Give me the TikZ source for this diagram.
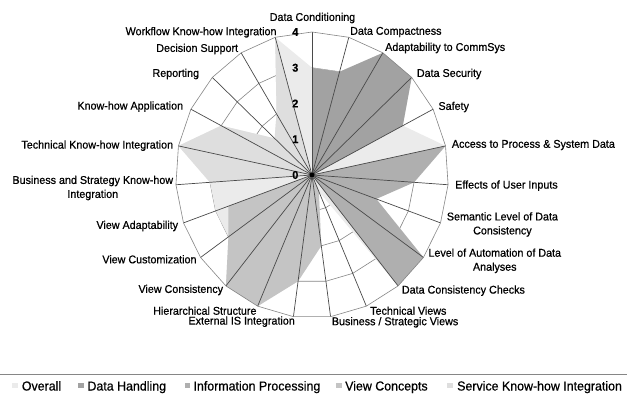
\documentclass[tikz,border=0pt]{standalone}
\usepackage{fontspec}
\newfontfamily\chartfont{Liberation Sans}[FakeStretch=0.954,FakeBold=0.6]

\definecolor{gridgray}{HTML}{868686}
\definecolor{spokegray}{HTML}{4A4A4A}
\definecolor{overallfill}{HTML}{EBEBEB}
\definecolor{handlingfill}{HTML}{A2A2A2}
\definecolor{processfill}{HTML}{AFAFAF}
\definecolor{viewfill}{HTML}{C4C4C4}
\definecolor{servicefill}{HTML}{DEDEDE}

% point on axis #1 (0..22, clockwise from top) at value #2 (0..4)
\newcommand{\rp}[2]{({90-(#1)*360/23}:{(#2)*34.1pt} and {(#2)*35.75pt})}

\begin{document}
\begin{tikzpicture}[x=1pt,y=1pt,
    grid/.style={draw=gridgray, line width=0.6pt},
    spoke/.style={draw=spokegray, line width=0.7pt},
    axislabel/.style={font=\chartfont\fontsize{11.26}{14}\selectfont, inner sep=0pt, align=center},
    ticklabel/.style={font=\chartfont\bfseries\fontsize{11.3}{13}\selectfont, inner sep=0pt, anchor=east},
    legendtext/.style={font=\chartfont\fontsize{13}{15}\selectfont, inner sep=0pt, anchor=base west},
    legendkey/.style={minimum size=5.5pt, inner sep=0pt}]

    \useasboundingbox (0,0) rectangle (627,394);
    \fill[white] (0,0) rectangle (627,394);

    \begin{scope}[shift={(312,219)}]
        % inner rings of the grid
        \foreach \r in {1,2,3}
            \draw[grid] \rp{0}{\r} \foreach \k in {1,...,22} { -- \rp{\k}{\r} } -- cycle;

        % Overall
        \fill[overallfill] \rp{0}{3} \foreach \k/\v in {1/3,2/4,3/4,4/3,5/4,6/3,7/2,8/4,9/4,10/0.5,11/2,12/3,13/4,14/4,15/3,16/3,17/3,18/4,19/3,20/1.5,21/2,22/4} { -- \rp{\k}{\v} } -- cycle;
        % Data Handling
        \fill[handlingfill] (0,0) \foreach \k/\v in {0/3,1/3,2/4,3/4,4/3} { -- \rp{\k}{\v} } -- cycle;
        % Information Processing
        \fill[processfill] (0,0) \foreach \k/\v in {5/4,6/3,7/2,8/4,9/4} { -- \rp{\k}{\v} } -- cycle;
        % View Concepts
        \fill[viewfill] (0,0) \foreach \k/\v in {10/0.5,11/2,12/3,13/4,14/4,15/3,16/2.6} { -- \rp{\k}{\v} } -- cycle;
        % Service Know-how Integration
        \fill[servicefill] (0,0) \foreach \k/\v in {17/3,18/4,19/3,20/1.5,21/2,22/4} { -- \rp{\k}{\v} } -- cycle;

        % spokes and outer ring
        \foreach \k in {0,...,22}
            \draw[spoke] (0,0) -- \rp{\k}{4};
        \draw[grid] \rp{0}{4} \foreach \k in {1,...,22} { -- \rp{\k}{4} } -- cycle;
        \fill[black] (0,0) circle (2.4pt);
    \end{scope}

    % scale values
    \node[ticklabel] (tick0) at (298.5,219) {0};
    \node[ticklabel] (tick1) at (298.5,254.75) {1};
    \node[ticklabel] (tick2) at (298.5,290.5) {2};
    \node[ticklabel] (tick3) at (298.5,326.25) {3};
    \node[ticklabel] (tick4) at (298.5,362) {4};

    % axis labels, right half
    \node[axislabel, anchor=center] (conditioning) at (312.5,376) {Data Conditioning};
    \node[axislabel, anchor=west] (compactness) at (350,362) {Data Compactness};
    \node[axislabel, anchor=west] (adaptability) at (385,346) {Adaptability to CommSys};
    \node[axislabel, anchor=west] (security) at (416.7,320) {Data Security};
    \node[axislabel, anchor=west] (safety) at (438.3,287) {Safety};
    \node[axislabel, anchor=west] (access) at (451.7,249) {Access to Process \& System Data};
    \node[axislabel, anchor=west] (effects) at (455,208.3) {Effects of User Inputs};
    \node[axislabel, anchor=west] (semantic) at (446.7,169.5) {Semantic Level of Data\\Consistency};
    \node[axislabel, anchor=west] (automation) at (428.3,133.2) {Level of Automation of Data\\Analyses};
    \node[axislabel, anchor=west] (checks) at (401.7,103.3) {Data Consistency Checks};
    \node[axislabel, anchor=west] (techviews) at (370,83.3) {Technical Views};
    \node[axislabel, anchor=west] (bizviews) at (331.7,71.7) {Business / Strategic Views};

    % axis labels, left half
    \node[axislabel, anchor=east] (external) at (295,72.3) {External IS Integration};
    \node[axislabel, anchor=east] (hierarchy) at (256.7,83.3) {Hierarchical Structure};
    \node[axislabel, anchor=east] (consistency) at (223.3,104) {View Consistency};
    \node[axislabel, anchor=east] (customization) at (196.7,134.7) {View Customization};
    \node[axislabel, anchor=east] (viewadapt) at (178.3,168) {View Adaptability};
    \node[axislabel, anchor=east] (bizknow) at (173.3,206) {Business and Strategy Know-how\\Integration};
    \node[axislabel, anchor=east] (techknow) at (173.3,248.3) {Technical Know-how Integration};
    \node[axislabel, anchor=east] (application) at (183.3,287.3) {Know-how Application};
    \node[axislabel, anchor=east] (reporting) at (199.3,320) {Reporting};
    \node[axislabel, anchor=east] (decision) at (238.3,345) {Decision Support};
    \node[axislabel, anchor=east] (workflow) at (276.7,361.7) {Workflow Know-how Integration};

    % legend
    \draw[gridgray, line width=0.8pt] (0,20) -- (627,20);
    \node[legendkey, fill=overallfill] (keyoverall) at (15,8.5) {};
    \node[legendtext] (txtoverall) at (21.7,3.5) {Overall};
    \node[legendkey, fill=handlingfill] (keyhandling) at (81,8.5) {};
    \node[legendtext] (txthandling) at (87.3,3.5) {Data Handling};
    \node[legendkey, fill=processfill] (keyprocess) at (187.5,8.5) {};
    \node[legendtext] (txtprocess) at (193.3,3.5) {Information Processing};
    \node[legendkey, fill=viewfill] (keyview) at (339,8.5) {};
    \node[legendtext] (txtview) at (345,3.5) {View Concepts};
    \node[legendkey, fill=servicefill] (keyservice) at (450,8.5) {};
    \node[legendtext] (txtservice) at (457,3.5) {Service Know-how Integration};
\end{tikzpicture}
\end{document}
